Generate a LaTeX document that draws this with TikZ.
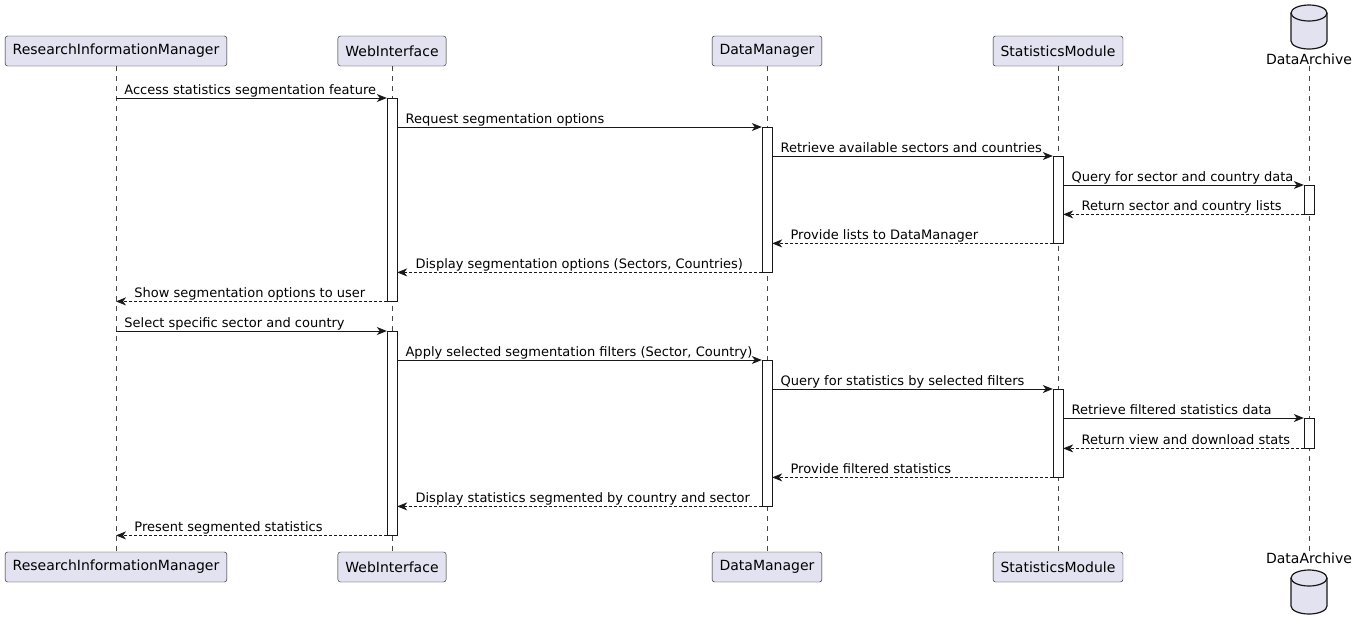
\documentclass[tikz,border=0pt]{standalone}
\usepackage{fontspec}
\setmainfont{DejaVu Sans}
\usetikzlibrary{arrows.meta}
\definecolor{umlline}{RGB}{24,24,24}
\definecolor{umlfill}{RGB}{226,226,240}

\tikzset{
  pics/dbicon/.style={code={
    \draw[draw=umlline,fill=umlfill,line width=1.2pt]
      (-18,-14) -- (-18,14) arc[start angle=180,end angle=360,x radius=18pt,y radius=8pt]
      -- (18,-14) arc[start angle=0,end angle=180,x radius=18pt,y radius=8pt] -- cycle;
    \draw[draw=umlline,line width=1.2pt]
      (-18,-14) arc[start angle=180,end angle=360,x radius=18pt,y radius=8pt];
  }}
}

\begin{document}
\begin{tikzpicture}[x=1pt,y=-1pt,
    every node/.style={font=\fontsize{13}{15}\selectfont},
    participant/.style={draw=umlline,fill=umlfill,rounded corners=2.5pt,
      minimum height=30pt,inner xsep=7.5pt,font=\fontsize{14}{16}\selectfont},
    dblabel/.style={inner sep=1pt,font=\fontsize{14}{16}\selectfont},
    lifeline/.style={draw=umlline!80,line width=0.5pt,dash pattern=on 5pt off 5pt},
    actbar/.style={draw=umlline,fill=white,minimum width=10pt,inner sep=0pt,anchor=north},
    msg/.style={draw=umlline,line width=0.8pt,-{Stealth[length=10pt,width=8pt,inset=3pt]}},
    reply/.style={msg,dash pattern=on 3pt off 2pt},
    lbl/.style={anchor=base west,inner sep=0pt,yshift=4pt}]
  \useasboundingbox (0,0) rectangle (1355,630);

  % participants, top and bottom
  \node[participant] (toprim) at (116,51) {ResearchInformationManager};
  \node[participant] (topwi) at (392,51) {WebInterface};
  \node[participant] (topdm) at (767,51) {DataManager};
  \node[participant] (topsm) at (1058,51) {StatisticsModule};
  \pic at (1309,27) {dbicon};
  \node[dblabel,anchor=south] (topda) at (1309,66) {DataArchive};

  \node[participant] (botrim) at (116,567) {ResearchInformationManager};
  \node[participant] (botwi) at (392,567) {WebInterface};
  \node[participant] (botdm) at (767,567) {DataManager};
  \node[participant] (botsm) at (1058,567) {StatisticsModule};
  \node[dblabel,anchor=north] (botda) at (1309,552) {DataArchive};
  \pic at (1309,592) {dbicon};

  \foreach \p in {rim,wi,dm,sm,da}
    \draw[lifeline] (top\p.south) -- (bot\p.north);

  % activations
  \node[actbar,minimum height=203pt] (actwiA) at (392,98) {};
  \node[actbar,minimum height=145pt] (actdmA) at (767,127) {};
  \node[actbar,minimum height=87pt] (actsmA) at (1058,156) {};
  \node[actbar,minimum height=29pt] (actdaA) at (1309,185) {};
  \node[actbar,minimum height=204pt] (actwiB) at (392,331) {};
  \node[actbar,minimum height=146pt] (actdmB) at (767,360) {};
  \node[actbar,minimum height=88pt] (actsmB) at (1058,389) {};
  \node[actbar,minimum height=30pt] (actdaB) at (1309,418) {};

  % first round: segmentation options
  \draw[msg] (toprim |- actwiA.north) -- (actwiA.north west)
    node[lbl,pos=0,xshift=8pt] {Access statistics segmentation feature};
  \draw[msg] (actwiA.east |- actdmA.north) -- (actdmA.north west)
    node[lbl,pos=0,xshift=8pt] {Request segmentation options};
  \draw[msg] (actdmA.east |- actsmA.north) -- (actsmA.north west)
    node[lbl,pos=0,xshift=8pt] {Retrieve available sectors and countries};
  \draw[msg] (actsmA.east |- actdaA.north) -- (actdaA.north west)
    node[lbl,pos=0,xshift=8pt] {Query for sector and country data};
  \draw[reply] (actdaA.south west) -- (actsmA.east |- actdaA.south)
    node[lbl,pos=1,xshift=18pt] {Return sector and country lists};
  \draw[reply] (actsmA.south west) -- (actdmA.east |- actsmA.south)
    node[lbl,pos=1,xshift=18pt] {Provide lists to DataManager};
  \draw[reply] (actdmA.south west) -- (actwiA.east |- actdmA.south)
    node[lbl,pos=1,xshift=18pt] {Display segmentation options (Sectors, Countries)};
  \draw[reply] (actwiA.south west) -- (toprim |- actwiA.south)
    node[lbl,pos=1,xshift=18pt] {Show segmentation options to user};

  % second round: filtered statistics
  \draw[msg] (toprim |- actwiB.north) -- (actwiB.north west)
    node[lbl,pos=0,xshift=8pt] {Select specific sector and country};
  \draw[msg] (actwiB.east |- actdmB.north) -- (actdmB.north west)
    node[lbl,pos=0,xshift=8pt] {Apply selected segmentation filters (Sector, Country)};
  \draw[msg] (actdmB.east |- actsmB.north) -- (actsmB.north west)
    node[lbl,pos=0,xshift=8pt] {Query for statistics by selected filters};
  \draw[msg] (actsmB.east |- actdaB.north) -- (actdaB.north west)
    node[lbl,pos=0,xshift=8pt] {Retrieve filtered statistics data};
  \draw[reply] (actdaB.south west) -- (actsmB.east |- actdaB.south)
    node[lbl,pos=1,xshift=18pt] {Return view and download stats};
  \draw[reply] (actsmB.south west) -- (actdmB.east |- actsmB.south)
    node[lbl,pos=1,xshift=18pt] {Provide filtered statistics};
  \draw[reply] (actdmB.south west) -- (actwiB.east |- actdmB.south)
    node[lbl,pos=1,xshift=18pt] {Display statistics segmented by country and sector};
  \draw[reply] (actwiB.south west) -- (toprim |- actwiB.south)
    node[lbl,pos=1,xshift=18pt] {Present segmented statistics};
\end{tikzpicture}
\end{document}
